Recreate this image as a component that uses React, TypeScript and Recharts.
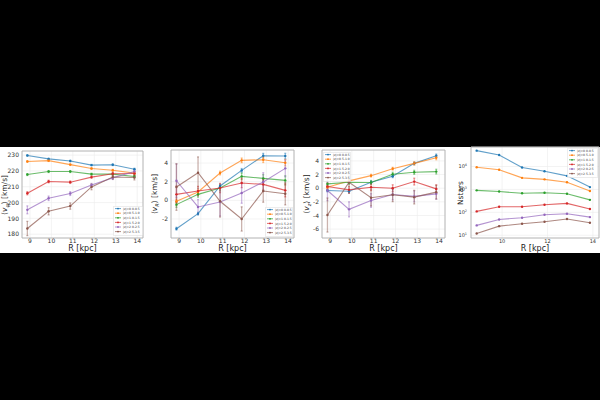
import React from 'react';
import {
  LineChart,
  Line,
  XAxis,
  YAxis,
  CartesianGrid,
  ErrorBar,
  ReferenceArea,
} from 'recharts';

// Galactocentric radius of each bin centre [kpc]
const R_KPC = [8.88, 9.87, 10.88, 11.87, 12.86, 13.87];

// Height slices above/below the plane
const Z_BINS = [
  '|z|=0.0-0.5',
  '|z|=0.5-1.0',
  '|z|=1.0-1.5',
  '|z|=1.5-2.0',
  '|z|=2.0-2.5',
  '|z|=2.5-3.5',
];

const COLORS = ['#1f77b4', '#ff7f0e', '#2ca02c', '#d62728', '#9467bd', '#8c564b'];

// Mean azimuthal velocity per slice [km/s]
const VPHI = [
  [229.8, 227.6, 226.3, 223.7, 223.9, 221.1],
  [226.0, 226.5, 224.0, 221.5, 220.4, 218.6],
  [217.7, 219.6, 219.6, 218.0, 218.0, 216.5],
  [205.9, 213.3, 212.9, 216.1, 218.2, 218.4],
  [195.4, 202.7, 205.7, 211.1, 215.6, 219.7],
  [183.6, 194.5, 197.8, 209.9, 216.2, 215.8],
];
const VPHI_ERR = [
  [0.4, 0.4, 0.4, 0.4, 0.5, 0.6],
  [0.5, 0.5, 0.5, 0.5, 0.6, 0.7],
  [0.6, 0.6, 0.6, 0.6, 0.7, 0.8],
  [1.0, 0.8, 0.8, 0.8, 0.9, 1.2],
  [2.5, 1.4, 1.2, 1.0, 1.0, 1.3],
  [4.5, 2.3, 2.0, 1.8, 1.5, 1.5],
];

// Mean radial velocity per slice [km/s]
const VR = [
  [-3.04, -1.43, 1.54, 3.21, 4.79, 4.75],
  [-0.1, 0.9, 2.93, 4.29, 4.36, 4.04],
  [-0.46, 0.64, 1.32, 2.57, 2.36, 2.14],
  [0.64, 1.0, 1.32, 1.86, 1.71, 1.07],
  [2.1, -0.71, -0.18, 0.79, 1.96, 3.43],
  [1.43, 2.96, -0.1, -2.0, 1.0, 0.71],
];
const VR_ERR = [
  [0.15, 0.15, 0.2, 0.2, 0.25, 0.3],
  [0.2, 0.2, 0.2, 0.25, 0.3, 0.35],
  [0.3, 0.3, 0.3, 0.35, 0.4, 0.5],
  [0.9, 0.5, 0.5, 0.5, 0.55, 0.7],
  [1.8, 0.8, 1.5, 1.1, 1.0, 0.9],
  [2.5, 1.7, 1.7, 1.3, 1.2, 1.2],
];

// Mean vertical velocity per slice [km/s]
const VZ = [
  [-0.34, -0.44, 0.87, 1.75, 3.64, 4.76],
  [0.15, 1.07, 1.84, 2.86, 3.64, 4.47],
  [0.63, 0.87, 0.83, 2.04, 2.33, 2.43],
  [0.24, -0.24, 0.15, 0.0, 0.97, -0.1],
  [-0.34, -3.1, -1.8, -0.92, -1.2, -0.83],
  [-3.93, 0.87, -1.4, -0.97, -1.31, -0.58],
];
const VZ_ERR = [
  [0.2, 0.2, 0.2, 0.2, 0.2, 0.25],
  [0.2, 0.2, 0.2, 0.2, 0.25, 0.3],
  [0.3, 0.3, 0.3, 0.3, 0.3, 0.35],
  [0.5, 0.5, 0.5, 0.5, 0.5, 0.6],
  [1.5, 1.1, 1.0, 0.8, 0.8, 0.8],
  [2.5, 1.6, 1.2, 1.0, 1.0, 1.0],
];

// Star counts per bin
const NSTARS = [
  [49000, 31600, 9100, 6200, 3900, 1260],
  [9300, 7200, 3200, 2750, 2040, 850],
  [910, 810, 680, 720, 650, 350],
  [110, 175, 175, 215, 245, 140],
  [27, 49, 58, 78, 87, 62],
  [12, 25, 32, 39, 51, 35],
];

const R_TICKS = [9, 10, 11, 12, 13, 14];
const R_TICKS_SPARSE = [10, 12, 14];
const VPHI_TICKS = [180, 190, 200, 210, 220, 230];
const VR_TICKS = [-2, 0, 2, 4];
const VZ_TICKS = [-6, -4, -2, 0, 2, 4];
const N_TICKS = [10, 100, 1000, 10000];

const X_DOMAIN: [number, number] = [8.63, 14.27];

const FONT = 'DejaVu Sans, sans-serif';

function buildRows(vals: number[][], errs?: number[][]) {
  return R_KPC.map((r, i) => {
    const row: Record<string, number> = { R: r };
    vals.forEach((s, k) => {
      row['s' + k] = s[i];
      if (errs) row['e' + k] = errs[k][i];
    });
    return row;
  });
}

type Box = { l: number; t: number; r: number; b: number };

const YW = 22;
const XH = 10;
const PAD = 2;

function LogTick(props: any) {
  const { x, y, payload } = props;
  const exp = Math.round(Math.log10(payload.value));
  return (
    <text x={x - 1} y={y + 1.6} textAnchor="end" fontSize={5} fill="#333" fontFamily={FONT}>
      <tspan>10</tspan>
      <tspan dy={-2.2} fontSize={3.4}>
        {exp}
      </tspan>
    </text>
  );
}

function Panel(props: {
  box: Box;
  rows: Record<string, number>[];
  yDomain: [number, number];
  yTicks: number[];
  xTicks: number[];
  log?: boolean;
  withErr?: boolean;
}) {
  const { box, rows, yDomain, yTicks, xTicks, log, withErr } = props;
  const w = box.r - box.l + YW + 2 * PAD;
  const h = box.b - box.t + XH + 2 * PAD;
  return (
    <div style={{ position: 'absolute', left: box.l - YW - PAD, top: box.t - PAD }}>
      <LineChart
        width={w}
        height={h}
        data={rows}
        margin={{ top: PAD, right: PAD, bottom: PAD, left: PAD }}
      >
        <CartesianGrid stroke="#ebebeb" strokeWidth={0.6} />
        <XAxis
          dataKey="R"
          type="number"
          domain={X_DOMAIN}
          ticks={xTicks}
          interval={0}
          allowDataOverflow
          height={XH}
          tickLine={false}
          axisLine={false}
          tickSize={1}
          tickMargin={0}
          tick={{ fontSize: log ? 5 : 6, fill: '#333', fontFamily: FONT }}
        />
        <YAxis
          type="number"
          scale={log ? 'log' : 'auto'}
          domain={yDomain}
          ticks={yTicks}
          interval={0}
          allowDataOverflow
          width={YW}
          tickLine={false}
          axisLine={false}
          tickSize={2}
          tickMargin={1}
          tick={log ? <LogTick /> : { fontSize: 6, fill: '#333', fontFamily: FONT }}
        />
        <ReferenceArea
          x1={X_DOMAIN[0]}
          x2={X_DOMAIN[1]}
          y1={yDomain[0]}
          y2={yDomain[1]}
          fill="none"
          stroke="#a8a8a8"
          strokeWidth={0.8}
        />
        {Z_BINS.map((name, k) => (
          <Line
            key={name}
            name={name}
            dataKey={'s' + k}
            stroke={COLORS[k]}
            strokeOpacity={0.7}
            strokeWidth={1.1}
            dot={{ r: 1.2, fill: COLORS[k], stroke: COLORS[k], strokeWidth: 0 }}
            isAnimationActive={false}
          >
            {withErr && (
              <ErrorBar
                dataKey={'e' + k}
                direction="y"
                width={1}
                stroke={COLORS[k]}
                strokeOpacity={0.45}
                strokeWidth={1.3}
                isAnimationActive={false}
              />
            )}
          </Line>
        ))}
      </LineChart>
    </div>
  );
}

function LegendBox(props: { left: number; top: number; width: number }) {
  const { left, top, width } = props;
  const rowH = 4.6;
  const height = Z_BINS.length * rowH + 2.4;
  return (
    <svg
      style={{ position: 'absolute', left, top }}
      width={width}
      height={height}
      viewBox={`0 0 ${width} ${height}`}
    >
      <rect
        x={0.3}
        y={0.3}
        width={width - 0.6}
        height={height - 0.6}
        rx={1}
        fill="#ffffff"
        fillOpacity={0.85}
        stroke="#d0d0d0"
        strokeWidth={0.5}
      />
      {Z_BINS.map((name, k) => {
        const cy = 2.6 + k * rowH;
        return (
          <g key={name}>
            <line x1={2} x2={8} y1={cy} y2={cy} stroke={COLORS[k]} strokeWidth={0.7} />
            <circle cx={5} cy={cy} r={0.9} fill={COLORS[k]} />
            <text x={10} y={cy + 1.1} fontSize={3} fill="#333" fontFamily={FONT}>
              {name}
            </text>
          </g>
        );
      })}
    </svg>
  );
}

function XTitle(props: { box: Box }) {
  const cx = (props.box.l + props.box.r) / 2;
  return (
    <div
      style={{
        position: 'absolute',
        left: cx - 30,
        top: 244,
        width: 60,
        textAlign: 'center',
        fontFamily: FONT,
        fontSize: 8,
        lineHeight: '9px',
        color: '#222',
      }}
    >
      R [kpc]
    </div>
  );
}

function YTitle(props: { x: number; box: Box; children: React.ReactNode }) {
  const cy = (props.box.t + props.box.b) / 2;
  return (
    <div
      style={{
        position: 'absolute',
        left: props.x - 40,
        top: cy - 5,
        width: 80,
        height: 10,
        textAlign: 'center',
        fontFamily: FONT,
        fontSize: 7.5,
        lineHeight: '10px',
        color: '#222',
        transform: 'rotate(-90deg)',
        whiteSpace: 'nowrap',
      }}
    >
      {props.children}
    </div>
  );
}

function VelLabel(props: { sub: string }) {
  return (
    <span>
      ⟨<i>v</i>
      <sub style={{ fontSize: 5, verticalAlign: 'baseline', position: 'relative', top: 1.5 }}>
        <i>{props.sub}</i>
      </sub>
      ⟩ [km/s]
    </span>
  );
}

const BOX1: Box = { l: 22, t: 151, r: 143, b: 238 };
const BOX2: Box = { l: 171, t: 150, r: 294, b: 238 };
const BOX3: Box = { l: 322, t: 150, r: 445, b: 238 };
const BOX4: Box = { l: 471, t: 147, r: 599, b: 238 };

export default function App() {
  return (
    <div
      style={{
        position: 'fixed',
        left: 0,
        top: 0,
        width: 600,
        height: 400,
        background: '#000',
        overflow: 'hidden',
      }}
    >
      <div style={{ position: 'absolute', left: 0, top: 147, width: 600, height: 106, background: '#fff' }} />

      <Panel
        box={BOX1}
        rows={buildRows(VPHI, VPHI_ERR)}
        yDomain={[177.6, 232.6]}
        yTicks={VPHI_TICKS}
        xTicks={R_TICKS}
        withErr
      />
      <Panel
        box={BOX2}
        rows={buildRows(VR, VR_ERR)}
        yDomain={[-4.04, 5.4]}
        yTicks={VR_TICKS}
        xTicks={R_TICKS}
        withErr
      />
      <Panel
        box={BOX3}
        rows={buildRows(VZ, VZ_ERR)}
        yDomain={[-7.3, 5.6]}
        yTicks={VZ_TICKS}
        xTicks={R_TICKS}
        withErr
      />
      <Panel
        box={BOX4}
        rows={buildRows(NSTARS)}
        yDomain={[7.6, 70800]}
        yTicks={N_TICKS}
        xTicks={R_TICKS_SPARSE}
        log
      />

      <LegendBox left={113} top={206} width={30} />
      <LegendBox left={265} top={207} width={28} />
      <LegendBox left={323} top={152} width={28} />
      <LegendBox left={567} top={148} width={31} />

      <XTitle box={BOX1} />
      <XTitle box={BOX2} />
      <XTitle box={BOX3} />
      <XTitle box={BOX4} />

      <YTitle x={5} box={BOX1}>
        <VelLabel sub="φ" />
      </YTitle>
      <YTitle x={155} box={BOX2}>
        <VelLabel sub="R" />
      </YTitle>
      <YTitle x={307} box={BOX3}>
        <VelLabel sub="z" />
      </YTitle>
      <YTitle x={461} box={BOX4}>
        Nstars
      </YTitle>
    </div>
  );
}
